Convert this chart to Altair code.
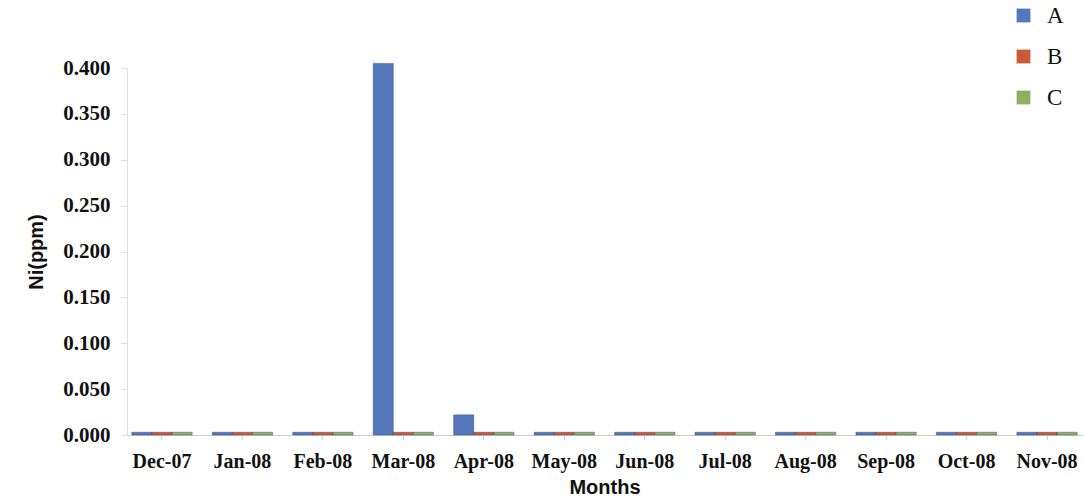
import altair as alt
import pandas as pd

months = ["Dec-07", "Jan-08", "Feb-08", "Mar-08", "Apr-08", "May-08",
          "Jun-08", "Jul-08", "Aug-08", "Sep-08", "Oct-08", "Nov-08"]
series = ["A", "B", "C"]
ni_a = [0.003, 0.003, 0.003, 0.405, 0.022, 0.003, 0.003, 0.003, 0.003, 0.003, 0.003, 0.003]
ni_b = [0.003] * 12
ni_c = [0.003] * 12
colors = ["#5577bb", "#cc5a3a", "#8fb062"]

rows = []
for s, vals in zip(series, [ni_a, ni_b, ni_c]):
    for m, v in zip(months, vals):
        rows.append({"Month": m, "Series": s, "Ni": v})
df = pd.DataFrame(rows)

serif = "Liberation Serif"
sans = "Liberation Sans"

x_enc = alt.X("Month:N", sort=months, scale=alt.Scale(paddingInner=0.25, paddingOuter=0.06),
              axis=alt.Axis(title="Months", labelAngle=0, labelFont=serif, labelFontSize=20,
                            labelFontWeight="bold", labelColor="#111", titleFont=sans,
                            titleFontSize=20, titleFontWeight="bold", titleColor="#111",
                            labelPadding=12, titlePadding=6, domainColor="#cccccc",
                            tickColor="#cccccc", tickSize=4))
y_enc = alt.Y("Ni:Q", scale=alt.Scale(domain=[0, 0.4], nice=False),
              axis=alt.Axis(title="Ni(ppm)", format=".3f", values=[i * 0.05 for i in range(9)],
                            labelFont=serif, labelFontSize=21, labelFontWeight="bold",
                            labelColor="#111", titleFont=sans, titleFontSize=20,
                            titleFontWeight="bold", titleColor="#111", titlePadding=16,
                            labelPadding=11, grid=False, domainColor="#dddddd",
                            tickColor="#dddddd", tickSize=6))

bars = alt.Chart(df).mark_bar(stroke="#1f2d55", strokeWidth=0.6, strokeOpacity=0.6).encode(
    x=x_enc, y=y_enc,
    xOffset=alt.XOffset("Series:N", sort=series),
    color=alt.Color("Series:N", scale=alt.Scale(domain=series, range=colors),
                    legend=alt.Legend(title=None, orient="none", legendX=885, legendY=-64,
                                      symbolType="square", symbolSize=190, symbolStrokeWidth=0,
                                      labelFont=serif, labelFontSize=23, labelColor="#111",
                                      rowPadding=17, labelOffset=12)),
)

chart = bars.properties(
    width=955, height=367,
    autosize=alt.AutoSizeParams(type="none"),
    padding={"left": 127, "top": 68, "right": 3, "bottom": 67},
    background="white",
).configure_view(stroke=None)

chart.save("out.html", embed_options={"renderer": "svg", "actions": False})
